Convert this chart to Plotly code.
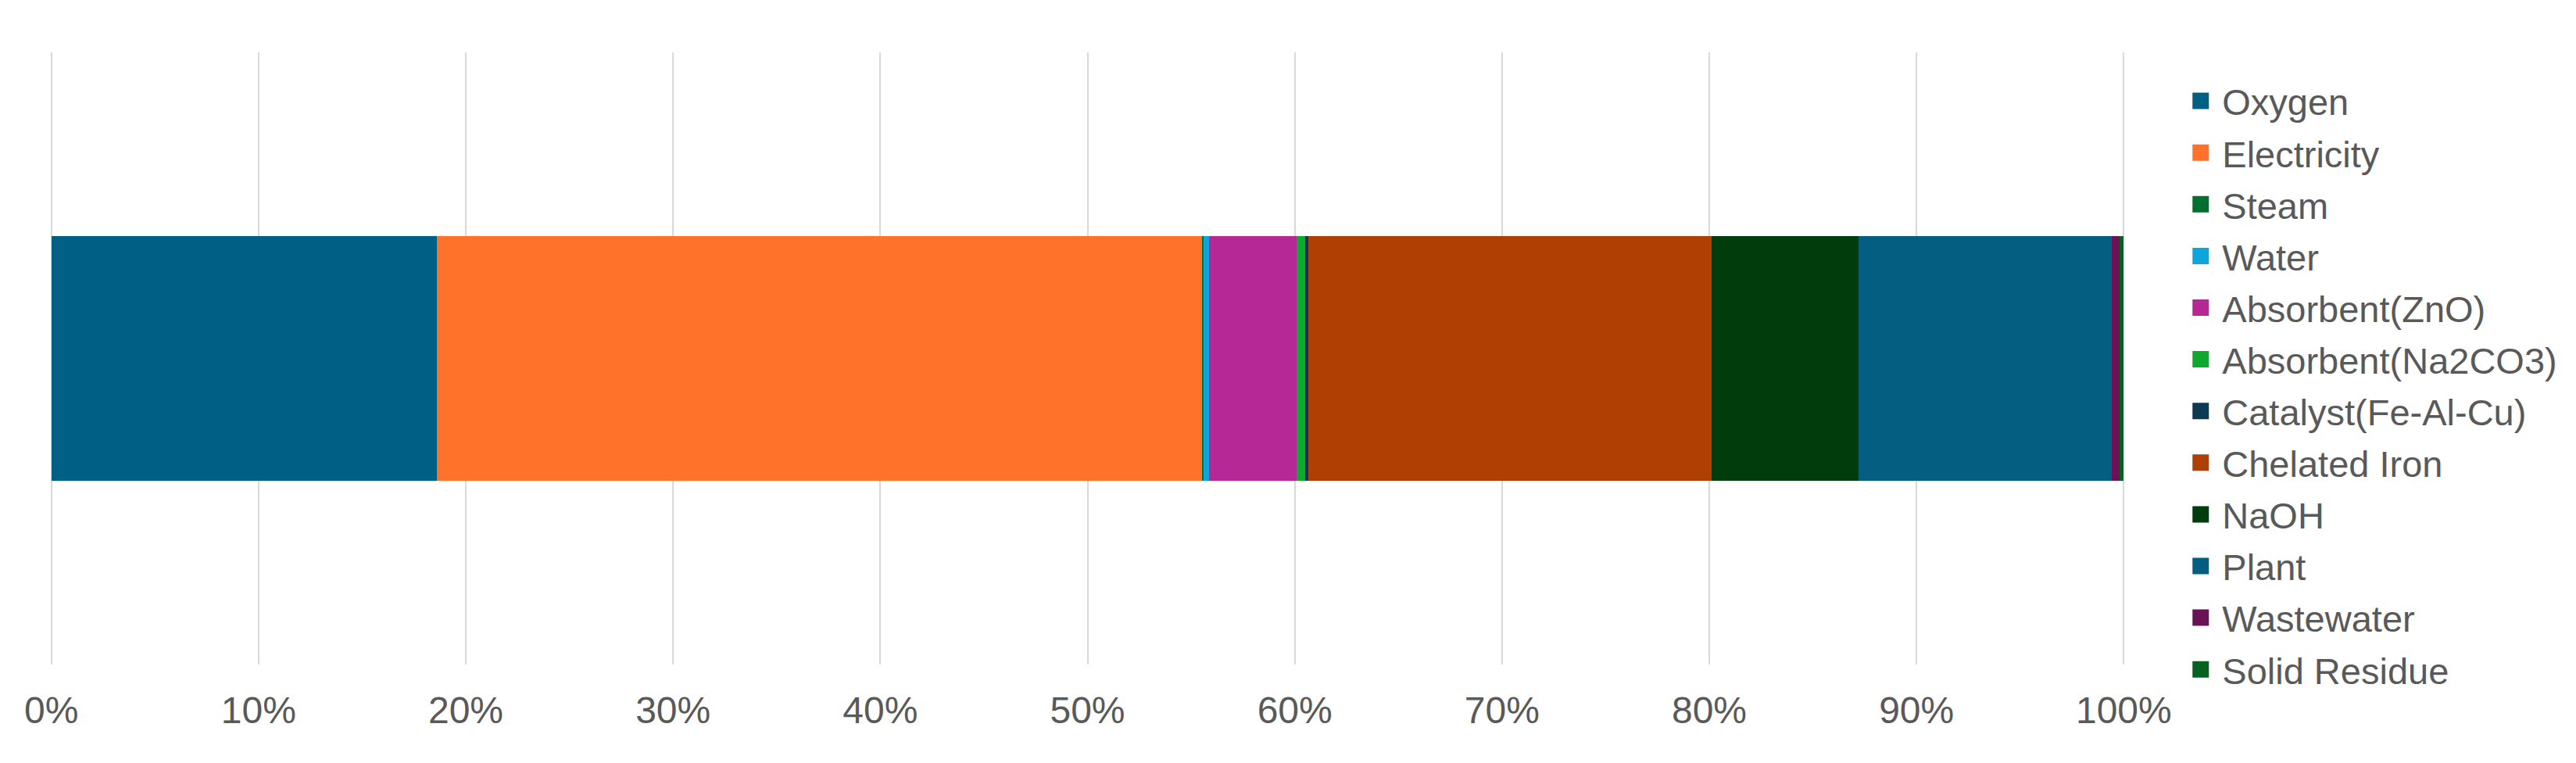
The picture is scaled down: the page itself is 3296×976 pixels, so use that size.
import plotly.graph_objects as go

# contribution shares (%)
categories = ["Oxygen", "Electricity", "Steam", "Water", "Absorbent(ZnO)",
              "Absorbent(Na2CO3)", "Catalyst(Fe-Al-Cu)", "Chelated Iron",
              "NaOH", "Plant", "Wastewater", "Solid Residue"]
shares = [18.62, 36.97, 0.05, 0.24, 4.25, 0.42, 0.13, 19.47, 7.09, 12.25,
          0.35, 0.22]
colors = ["#005F84", "#FE7229", "#04702F", "#0EA5DC", "#B52896", "#10A82F",
          "#0B3A52", "#AF3F03", "#003C0C", "#035E82", "#6B1256", "#05621F"]
xticks = [0, 10, 20, 30, 40, 50, 60, 70, 80, 90, 100]
xtick_labels = [f"{t}%" for t in xticks]
bar_label = [""]

FONT = "Liberation Sans, Arial, sans-serif"
GREY = "#595959"

fig = go.Figure()
for name, val, col in zip(categories, shares, colors):
    # the bar segment itself
    fig.add_trace(go.Bar(
        y=bar_label, x=[val], orientation="h", name=name,
        marker=dict(color=col, line=dict(width=0)),
        showlegend=False, legendgroup=name,
    ))
    # legend swatch (bigger square than the bar default)
    fig.add_trace(go.Scatter(
        y=[None], x=[None], mode="markers", name=name,
        marker=dict(symbol="square", size=16, color=col,
                    line=dict(color=col, width=5)),
        showlegend=True, legendgroup=name, hoverinfo="skip",
    ))

fig.update_layout(
    width=3296, height=976,
    barmode="stack", barnorm="percent", bargap=0.6,
    paper_bgcolor="white", plot_bgcolor="white",
    margin=dict(l=55, r=584, t=59, b=134),
    font=dict(family=FONT, color=GREY, size=48),
    legend=dict(
        x=1.0257, xanchor="left", y=0.968, yanchor="top",
        font=dict(size=47, color=GREY), tracegroupgap=2,
        itemwidth=45, maxheight=976,
        bgcolor="rgba(0,0,0,0)",
    ),
)
# range padded a hair so the 0% and 100% gridlines are kept
fig.update_xaxes(
    range=[-0.1, 100.1], tickvals=xticks, ticktext=xtick_labels,
    showgrid=True, gridcolor="#D9D9D9", gridwidth=2,
    zeroline=False, showline=False, ticks="",
    tickfont=dict(size=48, color=GREY), ticklabelstandoff=26,
)
fig.update_yaxes(showticklabels=False, showgrid=False, zeroline=False,
                 showline=False, ticks="")

fig.write_html("out.html")
